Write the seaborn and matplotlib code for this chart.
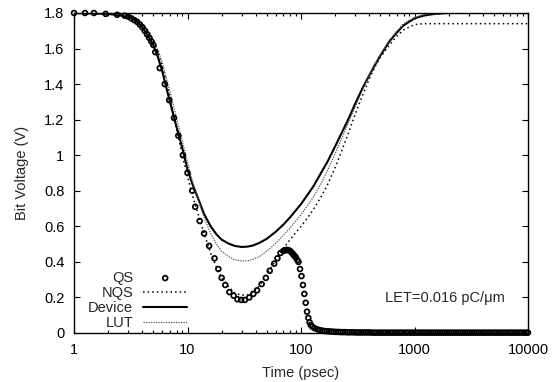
import numpy as np
import pandas as pd
import matplotlib
matplotlib.use("Agg")
import matplotlib.pyplot as plt
import seaborn as sns

# time grid of the line curves (psec)
t_line = [1, 2, 3, 3.5, 4, 4.5, 5, 5.5, 6, 7, 8, 9, 10, 11, 12, 14, 16, 18, 20,
          23, 26, 30, 34, 38, 43, 50, 60, 70, 80, 90, 100, 115, 130, 150, 170,
          200, 230, 260, 300, 350, 400, 450, 500, 600, 700, 800, 1000, 1200,
          1500, 2000, 3000, 5000, 10000]

v_device = [1.80, 1.795, 1.78, 1.76, 1.72, 1.67, 1.62, 1.55, 1.47, 1.30, 1.16,
            1.04, 0.92, 0.84, 0.78, 0.67, 0.60, 0.555, 0.525, 0.503, 0.49,
            0.484, 0.486, 0.493, 0.507, 0.53, 0.57, 0.61, 0.65, 0.69, 0.725,
            0.78, 0.83, 0.90, 0.96, 1.05, 1.13, 1.20, 1.29, 1.38, 1.45, 1.51,
            1.56, 1.64, 1.69, 1.73, 1.77, 1.785, 1.795, 1.80, 1.80, 1.80, 1.80]

v_lut = [1.80, 1.797, 1.785, 1.77, 1.74, 1.70, 1.65, 1.59, 1.52, 1.36, 1.21,
         1.08, 0.96, 0.86, 0.78, 0.65, 0.56, 0.50, 0.46, 0.43, 0.412, 0.405,
         0.406, 0.415, 0.43, 0.46, 0.505, 0.55, 0.59, 0.63, 0.665, 0.72, 0.77,
         0.84, 0.91, 1.01, 1.10, 1.18, 1.27, 1.37, 1.45, 1.515, 1.565, 1.645,
         1.70, 1.74, 1.775, 1.79, 1.797, 1.80, 1.80, 1.80, 1.80]

v_nqs = [1.80, 1.797, 1.785, 1.77, 1.74, 1.70, 1.65, 1.58, 1.50, 1.33, 1.15,
         1.00, 0.88, 0.78, 0.70, 0.56, 0.45, 0.37, 0.31, 0.26, 0.225, 0.212,
         0.215, 0.23, 0.265, 0.33, 0.41, 0.475, 0.525, 0.565, 0.60, 0.65,
         0.70, 0.765, 0.83, 0.93, 1.03, 1.12, 1.23, 1.34, 1.43, 1.50, 1.55,
         1.62, 1.67, 1.705, 1.735, 1.74, 1.74, 1.74, 1.74, 1.74, 1.74]

# QS simulation points (transient)
t_qs = [1.0, 1.25, 1.5, 1.9, 2.4, 2.8, 3.0, 3.2, 3.4, 3.6, 3.8, 4.0, 4.2, 4.4,
        4.6, 4.8, 5.0, 5.2, 5.7, 6.3, 6.9, 7.6, 8.3, 9.1, 10, 11, 11.7, 12.8,
        14, 15.5, 17.3, 18.7, 20, 21.5, 23.4, 25.5, 27.5, 29.7, 32, 35, 38,
        41, 45, 49, 53, 58, 62, 66, 70, 72, 74, 76, 78, 80, 82, 84, 86, 88,
        90, 93, 95, 98, 101, 104, 107, 110, 113, 116, 119, 122, 126, 132]
v_qs = [1.80, 1.80, 1.80, 1.795, 1.79, 1.785, 1.78, 1.77, 1.76, 1.75, 1.735,
        1.72, 1.70, 1.68, 1.66, 1.64, 1.62, 1.58, 1.49, 1.40, 1.31, 1.21,
        1.11, 1.00, 0.90, 0.80, 0.71, 0.63, 0.56, 0.49, 0.42, 0.36, 0.31,
        0.27, 0.23, 0.21, 0.19, 0.186, 0.186, 0.20, 0.22, 0.24, 0.275, 0.31,
        0.35, 0.39, 0.42, 0.45, 0.462, 0.465, 0.467, 0.467, 0.465, 0.462,
        0.455, 0.448, 0.44, 0.432, 0.425, 0.41, 0.40, 0.36, 0.32, 0.27, 0.22,
        0.17, 0.12, 0.085, 0.06, 0.045, 0.035, 0.027]

# QS simulation points (settled tail, dense output)
t_qs_tail = [140, 147, 154, 161, 169, 177, 185, 194, 203, 213, 223, 233, 244,
             256, 268, 281, 294, 308, 322, 337, 353, 370, 387, 405, 424, 444,
             465, 487, 510, 534, 559, 585, 613, 642, 672, 704, 737, 771, 808,
             846, 885, 927, 970, 1016, 1064, 1114, 1166, 1221, 1278, 1338,
             1401, 1467, 1536, 1608, 1684, 1763, 1846, 1932, 2023, 2118, 2218,
             2322, 2431, 2546, 2665, 2791, 2922, 3059, 3203, 3353, 3511, 3676,
             3849, 4030, 4219, 4418, 4625, 4843, 5070, 5309, 5558, 5819, 6093,
             6379, 6679, 6993, 7322, 7666, 8026, 8404, 8799, 9212, 9645, 10000]
v_qs_tail = [0.020, 0.016, 0.013, 0.011, 0.010, 0.009, 0.008, 0.007, 0.006,
             0.006, 0.005, 0.005, 0.005, 0.004, 0.004, 0.004, 0.004, 0.003,
             0.003, 0.003, 0.003, 0.003, 0.003, 0.003, 0.002, 0.002, 0.002,
             0.002, 0.002, 0.002, 0.002, 0.002, 0.002, 0.002, 0.002, 0.002,
             0.002, 0.002, 0.002, 0.002, 0.002, 0.002, 0.002, 0.002, 0.002,
             0.002, 0.002, 0.002, 0.002, 0.002, 0.002, 0.002, 0.002, 0.002,
             0.002, 0.002, 0.002, 0.002, 0.002, 0.002, 0.002, 0.002, 0.002,
             0.002, 0.002, 0.002, 0.002, 0.002, 0.002, 0.002, 0.002, 0.002,
             0.002, 0.002, 0.002, 0.002, 0.002, 0.002, 0.002, 0.002, 0.002,
             0.002, 0.002, 0.002, 0.002, 0.002, 0.002, 0.002, 0.002, 0.002,
             0.002, 0.002, 0.002, 0.002]

x_ticks = [1, 10, 100, 1000, 10000]
x_tick_labels = ["1", "10", "100", "1000", "10000"]
y_ticks = [0, 0.2, 0.4, 0.6, 0.8, 1.0, 1.2, 1.4, 1.6, 1.8]
y_tick_labels = ["0", "0.2", "0.4", "0.6", "0.8", "1", "1.2", "1.4", "1.6", "1.8"]


def main():
    sns.set_style("ticks")
    plt.rcParams["font.family"] = ["Liberation Sans", "DejaVu Sans"]
    plt.rcParams["font.size"] = 10.5

    lines = pd.DataFrame({"t": t_line, "Device": v_device,
                          "LUT": v_lut, "NQS": v_nqs})
    qs = pd.DataFrame({"t": t_qs + t_qs_tail, "v": v_qs + v_qs_tail})

    fig = plt.figure(figsize=(5.57, 3.82), dpi=100)
    ax = fig.add_axes([74 / 557, 49 / 382, 454 / 557, 320 / 382])

    sns.scatterplot(data=qs, x="t", y="v", ax=ax, marker="o", s=12,
                    facecolor="none", edgecolor="black", linewidth=1.25,
                    label="QS", zorder=4, clip_on=False)
    sns.lineplot(data=lines, x="t", y="NQS", ax=ax, color="black", lw=1.1,
                 linestyle=(0, (1, 2)), label="NQS", zorder=3)
    sns.lineplot(data=lines, x="t", y="Device", ax=ax, color="black", lw=1.5,
                 label="Device", zorder=3)
    sns.lineplot(data=lines, x="t", y="LUT", ax=ax, color="#555555", lw=0.9,
                 linestyle=(0, (1, 1)), label="LUT", zorder=3)

    ax.set_xscale("log")
    ax.set_xlim(1, 10000)
    ax.set_ylim(0, 1.8)
    ax.set_xticks(x_ticks)
    ax.set_xticklabels(x_tick_labels)
    ax.set_yticks(y_ticks)
    ax.set_yticklabels(y_tick_labels)
    ax.tick_params(which="both", direction="in", top=True, right=True,
                   colors="black", width=0.8)
    ax.tick_params(which="major", length=4, pad=7)
    ax.tick_params(which="minor", length=2.2)
    for sp in ax.spines.values():
        sp.set_visible(True)
        sp.set_linewidth(1.0)
        sp.set_color("black")
        sp.set_zorder(5)

    ax.set_xlabel("Time (psec)", labelpad=7)
    ax.set_ylabel("Bit Voltage (V)")
    ax.yaxis.set_label_coords(-0.10, 0.5)

    ax.text(0.949, 0.109, "LET=0.016 pC/\u03bcm", transform=ax.transAxes,
            ha="right", va="center")

    leg = ax.legend(loc="lower right", bbox_to_anchor=(0.249, 0.008),
                    frameon=False, markerfirst=False, handlelength=3.0,
                    handletextpad=0.7, labelspacing=0.08, borderpad=0,
                    borderaxespad=0, markerscale=1.0)
    leg._legend_handle_box.get_children()[0].align = "right"

    fig.savefig("out.png", dpi=100)
    plt.close(fig)


if __name__ == "__main__":
    main()
